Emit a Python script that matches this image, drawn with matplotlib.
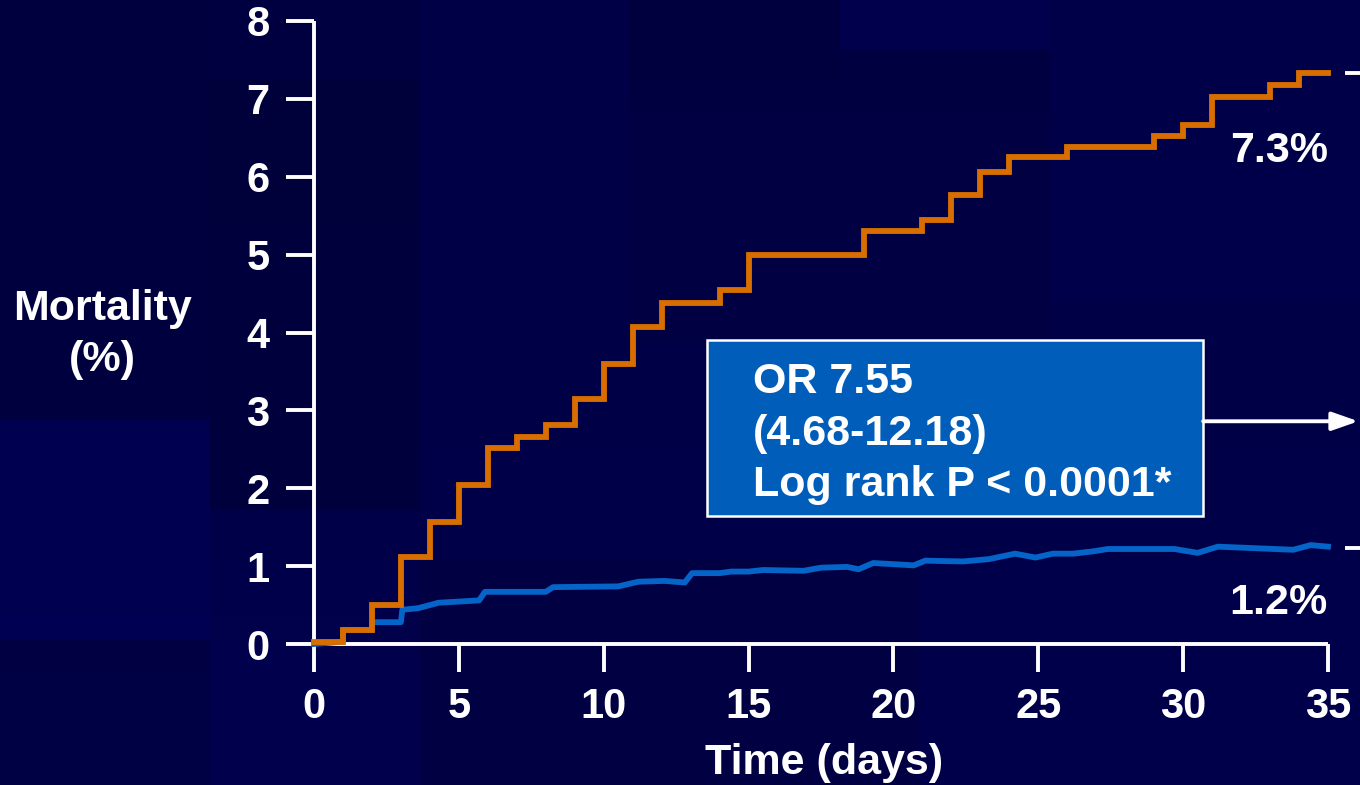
import matplotlib
matplotlib.use("Agg")
import matplotlib.pyplot as plt
from matplotlib.patches import Rectangle
import numpy as np

plt.rcParams['font.family'] = ['Liberation Sans', 'DejaVu Sans']
plt.rcParams['font.weight'] = 'bold'

# Cumulative mortality, group with complication (step curve)
orange_days = [0, 1, 2, 3, 4, 5, 6, 7, 8, 9, 10, 11, 12, 14, 15, 19, 21, 22,
               23, 24, 26, 29, 30, 31, 33, 34, 35]
orange_vals = [0.02, 0.18, 0.50, 1.12, 1.57, 2.04, 2.52, 2.66, 2.81, 3.14, 3.59,
               4.07, 4.38, 4.55, 4.99, 5.30, 5.44, 5.76, 6.06, 6.25, 6.38, 6.52,
               6.67, 7.02, 7.18, 7.33, 7.33]

# Cumulative mortality, group without complication
blue_days = [0, 1, 1, 2, 2, 3, 3.05, 3.6, 4.3, 5.7, 5.9, 8.0, 8.25, 10.5, 11.2,
             12.1, 12.8, 13.05, 14.0, 14.4, 15.0, 15.5, 16.9, 17.5, 18.4, 18.8,
             19.3, 20.7, 21.1, 22.4, 23.3, 24.2, 24.9, 25.5, 26.2, 26.9, 27.4,
             29.7, 30.5, 31.2, 33.8, 34.4, 35]
blue_vals = [0, 0.03, 0.18, 0.18, 0.28, 0.28, 0.44, 0.46, 0.53, 0.56, 0.67, 0.67,
             0.73, 0.74, 0.80, 0.81, 0.79, 0.91, 0.91, 0.93, 0.93, 0.95, 0.94,
             0.98, 0.99, 0.96, 1.04, 1.01, 1.07, 1.06, 1.09, 1.16, 1.11, 1.16,
             1.16, 1.19, 1.22, 1.22, 1.17, 1.25, 1.21, 1.27, 1.25]

x_ticks = [0, 5, 10, 15, 20, 25, 30, 35]
y_ticks = [0, 1, 2, 3, 4, 5, 6, 7, 8]
end_labels = ["7.3%", "1.2%"]
end_values = [7.33, 1.23]
stats_lines = ["OR 7.55", "(4.68-12.18)", "Log rank P < 0.0001*"]

W, H = 1360, 785
FS = 31
fig = plt.figure(figsize=(W / 100, H / 100), dpi=100)
fig.patch.set_facecolor('#000046')

# Navy slide background with faint blocky tiles
bg = fig.add_axes([0, 0, 1, 1])
bg.set_xlim(0, W)
bg.set_ylim(H, 0)
bg.axis('off')
grad = np.linspace(0, 1, 256).reshape(-1, 1)
bg.imshow(grad, extent=[0, W, H, 0], aspect='auto',
          cmap=matplotlib.colors.LinearSegmentedColormap.from_list(
              'navy', ['#000040', '#00004E']), zorder=0)
tiles = [
    (0, 420, 210, 220, '#000054'), (210, 80, 210, 430, '#00003A'),
    (0, 0, 210, 420, '#00003E'), (420, 0, 210, 330, '#000048'),
    (630, 0, 210, 90, '#00003E'), (840, 0, 210, 50, '#000050'),
    (1050, 0, 310, 300, '#00004C'), (0, 640, 210, 145, '#000042'),
    (210, 640, 210, 145, '#00004E'), (420, 560, 500, 225, '#000040'),
    (920, 580, 440, 205, '#00004A'), (630, 90, 420, 250, '#000042'),
    (1050, 300, 310, 250, '#000048'),
]
for tx, ty, tw, th, tc in tiles:
    bg.add_patch(Rectangle((tx, ty), tw, th, facecolor=tc, edgecolor='none',
                           alpha=0.8, zorder=1))

ax = fig.add_axes([314 / W, (H - 644) / H, 1014 / W, 623 / H])
ax.set_facecolor('none')
ax.set_xlim(0, 35)
ax.set_ylim(0, 8)

for s in ('top', 'right'):
    ax.spines[s].set_visible(False)
for s in ('left', 'bottom'):
    ax.spines[s].set_color('white')
    ax.spines[s].set_linewidth(2.8)
    ax.spines[s].set_capstyle('butt')

ax.set_xticks(x_ticks)
ax.set_yticks(y_ticks)
ax.tick_params(axis='both', colors='white', width=2.8, length=20,
               labelsize=30, direction='out')
ax.tick_params(axis='y', pad=12)
ax.tick_params(axis='x', pad=11)
for lab in ax.get_xticklabels() + ax.get_yticklabels():
    lab.set_fontweight('bold')

ax.step(orange_days, orange_vals, where='post', color='#D86E00', lw=4.2,
        solid_joinstyle='miter', clip_on=False, zorder=4)
ax.plot(blue_days, blue_vals, color='#0564C8', lw=4.2, clip_on=False, zorder=3)

# End-of-follow-up markers and labels
for lab, v in zip(end_labels, end_values):
    ax.plot([35.6, 36.1], [v, v], color='white', lw=2.8, clip_on=False,
            solid_capstyle='butt')
ax.text(35, end_values[0] - 1.0, end_labels[0], color='white', fontsize=FS,
        fontweight='bold', ha='right', va='center')
ax.text(35, end_values[1] - 0.7, end_labels[1], color='white', fontsize=FS,
        fontweight='bold', ha='right', va='center')

# Statistics box
ax.add_patch(Rectangle((13.57, 1.64), 17.12, 2.26, facecolor='#005EBA',
                       edgecolor='white', lw=1.8, zorder=5, clip_on=False))
for line, yb in zip(stats_lines, [3.22, 2.56, 1.90]):
    ax.text(15.15, yb, line, color='white', fontsize=FS, fontweight='bold',
            ha='left', va='baseline', zorder=6)
ax.annotate('', xy=(36.05, 2.86), xytext=(30.69, 2.86),
            arrowprops=dict(arrowstyle='-|>,head_length=0.8,head_width=0.28',
                            mutation_scale=20, color='white', lw=2.8,
                            shrinkA=0, shrinkB=0),
            annotation_clip=False, zorder=6)

fig.text(102 / W, 1 - 309 / H, "Mortality", color='white', fontsize=FS,
         fontweight='bold', ha='center', va='center')
fig.text(102 / W, 1 - 360 / H, "(%)", color='white', fontsize=FS,
         fontweight='bold', ha='center', va='center')
fig.text(824 / W, 1 - 763 / H, "Time (days)", color='white', fontsize=FS,
         fontweight='bold', ha='center', va='center')

fig.savefig('out.png', dpi=100, facecolor=fig.get_facecolor())
